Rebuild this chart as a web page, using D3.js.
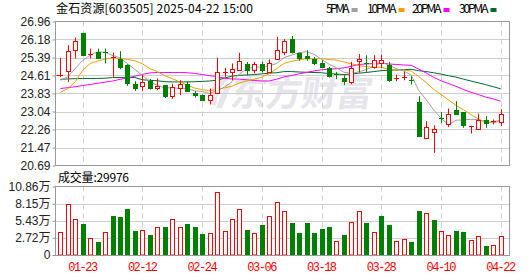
<!DOCTYPE html>
<html>
<head>
<meta charset="utf-8">
<script src="https://cdn.jsdelivr.net/npm/d3@7"></script>
<style>
  body { margin: 0; background: #fff; }
  svg { display: block; }
  text { font-family: "Liberation Sans", Arial, sans-serif; }
  .cjk { font-family: "Noto Sans CJK SC", sans-serif; }
</style>
</head>
<body>
<div id="chart"></div>
<script>
// Trading days shown on the chart
const dates = ['01-20','01-21','01-22','01-23','01-24','01-27','02-05','02-06','02-07','02-10',
  '02-11','02-12','02-13','02-14','02-17','02-18','02-19','02-20','02-21','02-24',
  '02-25','02-26','02-27','02-28','03-03','03-04','03-05','03-06','03-07','03-10',
  '03-11','03-12','03-13','03-14','03-17','03-18','03-19','03-20','03-21','03-24',
  '03-25','03-26','03-27','03-28','03-31','04-01','04-02','04-03','04-07','04-08',
  '04-09','04-10','04-11','04-14','04-15','04-16','04-17','04-18','04-21','04-22'];

// OHLC prices
const open = [24.60,24.81,25.74,26.44,25.52,25.64,25.62,25.38,25.32,25.06,
  24.26,24.13,24.39,24.07,24.19,23.71,24.07,24.22,23.85,23.75,
  23.53,23.83,24.75,24.77,24.87,25.09,24.87,25.09,24.77,25.31,
  25.64,26.18,25.57,25.46,25.32,25.16,24.94,24.67,24.52,24.33,
  25.25,25.16,24.98,25.17,25.06,24.48,24.53,24.42,23.46,21.89,
  22.13,22.78,22.49,23.10,23.00,22.39,22.26,22.66,22.60,22.57];
const high = [25.37,25.93,26.26,26.46,25.78,25.78,25.78,25.61,25.67,25.10,
  24.36,24.65,24.45,24.48,24.19,24.25,24.40,24.36,23.93,23.78,
  24.04,25.38,24.94,25.13,25.60,25.20,25.20,25.20,25.31,26.29,
  26.19,26.33,25.61,25.71,25.42,25.27,24.98,24.77,24.62,25.20,
  25.54,25.49,25.49,25.52,25.20,24.65,24.77,24.58,23.71,22.62,
  22.44,23.02,23.17,23.49,23.00,22.42,22.95,22.84,22.69,23.14];
const low = [24.54,24.33,25.35,25.45,25.35,25.35,25.13,24.55,24.88,24.16,
  23.94,23.94,24.00,23.97,23.63,23.60,23.75,23.90,23.65,23.49,
  23.35,23.83,24.55,24.40,24.87,24.62,24.70,24.74,24.74,25.31,
  25.49,25.57,25.25,25.25,25.06,24.94,24.52,24.45,24.19,24.23,
  24.74,24.74,24.91,24.94,24.33,24.36,24.40,24.22,21.98,21.84,
  21.24,22.54,22.37,22.95,22.33,22.08,22.26,22.33,22.48,22.41];
const close = [24.62,25.68,26.09,25.49,25.55,25.38,25.60,25.40,24.98,24.29,
  24.07,24.32,24.06,24.17,23.71,24.11,24.22,23.93,23.74,23.53,
  23.75,24.74,24.78,24.91,25.22,24.84,25.09,24.84,25.16,25.74,
  26.12,25.62,25.38,25.38,25.17,24.98,24.59,24.65,24.36,24.94,
  25.31,25.10,25.27,25.27,24.40,24.50,24.56,24.40,21.98,22.35,
  22.30,22.74,22.95,22.95,22.46,22.42,22.66,22.55,22.62,22.95];

// Moving averages as drawn
const ma5 = [24.40,24.55,24.91,25.27,25.49,25.64,25.62,25.48,25.38,25.13,
  24.87,24.61,24.34,24.18,24.07,24.07,24.05,24.03,23.94,23.91,
  23.83,23.94,24.11,24.34,24.68,24.90,24.97,24.98,25.03,25.13,
  25.39,25.50,25.60,25.65,25.53,25.31,25.10,24.95,24.75,24.70,
  24.77,24.87,25.00,25.18,25.07,24.91,24.80,24.63,23.97,23.56,
  23.12,22.75,22.46,22.66,22.68,22.70,22.69,22.61,22.54,22.64];
const ma10 = [23.87,24.04,24.33,24.84,25.13,25.24,25.32,25.38,25.35,25.31,
  25.25,25.12,24.91,24.78,24.60,24.47,24.33,24.19,24.06,23.99,
  23.95,24.00,24.07,24.14,24.29,24.37,24.45,24.54,24.69,24.91,
  25.14,25.23,25.29,25.34,25.33,25.35,25.30,25.28,25.20,25.12,
  25.04,24.99,24.98,24.96,24.89,24.84,24.84,24.81,24.57,24.31,
  24.01,23.78,23.55,23.31,23.12,22.91,22.72,22.54,22.60,22.66];
const ma20 = [24.04,24.08,24.12,24.17,24.22,24.27,24.32,24.37,24.44,24.50,
  24.58,24.66,24.72,24.74,24.74,24.74,24.74,24.73,24.70,24.65,
  24.60,24.56,24.49,24.46,24.45,24.42,24.39,24.37,24.37,24.45,
  24.55,24.61,24.68,24.74,24.81,24.86,24.88,24.91,24.94,25.01,
  25.09,25.11,25.13,25.15,25.11,25.09,25.07,25.05,24.89,24.72,
  24.53,24.38,24.26,24.14,24.00,23.88,23.78,23.67,23.59,23.49];
const ma30 = [24.44,24.46,24.47,24.48,24.48,24.48,24.49,24.52,24.52,24.52,
  24.52,24.42,24.40,24.38,24.34,24.33,24.33,24.33,24.34,24.35,
  24.37,24.40,24.50,24.58,24.62,24.63,24.65,24.68,24.71,24.73,
  24.78,24.78,24.76,24.75,24.74,24.73,24.69,24.67,24.65,24.67,
  24.71,24.74,24.78,24.82,24.84,24.85,24.86,24.88,24.82,24.78,
  24.73,24.67,24.60,24.54,24.45,24.37,24.29,24.21,24.12,24.03];

// Volume in 万 shares, and bar colour (1 = red, 0 = green)
const volume = [3.62,8.03,5.77,4.88,2.62,2.05,3.62,6.14,5.98,7.24,
  3.78,4.04,3.15,4.36,4.41,5.77,4.36,4.88,4.41,3.30,
  3.41,10.02,3.88,5.77,7.34,3.93,3.46,4.72,6.24,8.45,
  7.03,5.04,3.46,5.04,3.46,4.09,4.41,2.20,3.15,5.30,
  7.03,5.04,3.57,6.14,4.72,2.20,2.47,2.05,6.92,6.71,
  5.51,3.88,3.25,3.88,3.72,2.31,2.94,1.42,1.52,3.00];
const volUp = [1,1,1,0,1,0,1,0,0,0, 0,1,0,1,0,1,1,0,0,0,
  1,1,1,1,1,0,1,0,1,1, 1,0,0,0,0,0,0,1,0,1,
  1,0,1,0,0,1,1,0,0,1, 0,1,1,0,0,1,1,0,1,1];

// Axis labels
const priceTicks = [26.96,26.18,25.39,24.61,23.83,23.04,22.26,21.47,20.69];
const volTicks = [0,2.715,5.43,8.145,10.86];
const volTickLabels = ['0','2.72万','5.43万','8.15万','10.86万'];
const dateTicks = ['01-23','02-12','02-24','03-06','03-18','03-28','04-10','04-22'];
const markPrice = 24.61;

const maSeries = [
  { name: '5PMA', values: ma5, color: '#a0a0a0' },
  { name: '10PMA', values: ma10, color: '#f0a000' },
  { name: '20PMA', values: ma20, color: '#ff00ff' },
  { name: '30PMA', values: ma30, color: '#006a2c' }
];

const RED = '#ff0000', GREEN = '#008000', GRID = '#cfcfcf', BORDER = '#999';
const W = 530, H = 276;
const left = 55.5, right = 509.5;
const mainTop = 21.5, mainBottom = 165.5;
const volTop = 186.5, volBottom = 255.5;

const svg = d3.select('#chart').append('svg')
  .attr('width', W).attr('height', H)
  .style('background', '#fff');

const x = d3.scalePoint().domain(dates).range([60.3, 500.7]);
const y = d3.scaleLinear().domain([20.69, 26.96]).range([mainBottom, mainTop]);
const vy = d3.scaleLinear().domain([0, 10.86]).range([volBottom - 0.5, volTop]);
const px = d => Math.round(x(d));

// Watermark
const wm = svg.append('g').attr('fill', '#e5e5ea');
wm.append('path')
  .attr('d', 'M222,76 C214,80 208,92 210,104 L216,106 C216,96 220,86 228,80 Z M226,84 L232,84 L222,108 L216,108 Z');
wm.append('text').attr('class', 'cjk')
  .attr('x', 230).attr('y', 106)
  .attr('font-size', 36).attr('font-weight', 'bold')
  .attr('transform', 'skewX(-8) translate(14,0)')
  .attr('textLength', 142)
  .text('东方财富');

// Grid lines
function hGrid(values, scale) {
  svg.append('g').selectAll('line').data(values).join('line')
    .attr('x1', left).attr('x2', right)
    .attr('y1', d => Math.round(scale(d)) + 0.5)
    .attr('y2', d => Math.round(scale(d)) + 0.5)
    .attr('stroke', GRID);
}
hGrid(priceTicks.slice(1, -1), y);
hGrid(volTicks.slice(1, -1), vy);

[[mainTop, mainBottom], [volTop, volBottom]].forEach(([t, b]) => {
  svg.append('g').selectAll('line').data(dateTicks).join('line')
    .attr('x1', d => px(d) + 0.5).attr('x2', d => px(d) + 0.5)
    .attr('y1', t).attr('y2', b)
    .attr('stroke', GRID).attr('stroke-dasharray', '5,4');
});

// Moving average lines
const line = d3.line().x((d, i) => x(dates[i])).y(d => y(d));
svg.append('g').selectAll('path').data(maSeries.slice().reverse()).join('path')
  .attr('d', s => line(s.values))
  .attr('fill', 'none')
  .attr('stroke', s => s.color)
  .attr('stroke-width', 1);

// Candles
const candles = svg.append('g').selectAll('g').data(dates).join('g');
candles.append('line')
  .attr('x1', d => px(d) + 0.5).attr('x2', d => px(d) + 0.5)
  .attr('y1', (d, i) => y(high[i])).attr('y2', (d, i) => y(low[i]))
  .attr('stroke', (d, i) => close[i] > open[i] ? RED : GREEN);
candles.each(function (d, i) {
  const g = d3.select(this);
  const up = close[i] > open[i];
  const c = up ? RED : GREEN;
  const yTop = Math.round(y(Math.max(open[i], close[i])));
  const yBot = Math.round(y(Math.min(open[i], close[i])));
  if (yBot - yTop < 2) {
    g.append('line')
      .attr('x1', px(d) - 2).attr('x2', px(d) + 3)
      .attr('y1', yTop + 0.5).attr('y2', yTop + 0.5)
      .attr('stroke', c);
  } else if (up) {
    g.append('rect')
      .attr('x', px(d) - 1.5).attr('y', yTop + 0.5)
      .attr('width', 4).attr('height', yBot - yTop)
      .attr('fill', '#fff').attr('stroke', c);
  } else {
    g.append('rect')
      .attr('x', px(d) - 2).attr('y', yTop)
      .attr('width', 5).attr('height', yBot - yTop + 1)
      .attr('fill', c);
  }
});

// Volume bars
svg.append('g').selectAll('rect').data(dates).join('rect')
  .attr('x', d => px(d) - 2 + (volUp[dates.indexOf(d)] ? 0.5 : 0))
  .attr('y', (d, i) => Math.round(vy(volume[i])) + (volUp[i] ? 0.5 : 0))
  .attr('width', (d, i) => volUp[i] ? 4 : 5)
  .attr('height', (d, i) => 255 - Math.round(vy(volume[i])) - (volUp[i] ? 0.5 : 0))
  .attr('fill', (d, i) => volUp[i] ? '#fff' : GREEN)
  .attr('stroke', (d, i) => volUp[i] ? RED : 'none');

// Panel borders
[[mainTop, mainBottom], [volTop, volBottom]].forEach(([t, b]) => {
  svg.append('rect')
    .attr('x', left).attr('y', t)
    .attr('width', right - left).attr('height', b - t)
    .attr('fill', 'none').attr('stroke', BORDER);
});

// Price axis
const yAxis = svg.append('g')
  .attr('transform', `translate(${left},0)`)
  .call(d3.axisLeft(y).tickValues(priceTicks).tickFormat(d3.format('.2f')).tickSize(3).tickPadding(2));
yAxis.select('.domain').remove();
yAxis.selectAll('line').attr('stroke', BORDER);
yAxis.selectAll('text').attr('font-size', 12).attr('fill', '#222')
  .style('font-family', '"Liberation Sans", Arial, sans-serif');

// Volume axis
const vAxis = svg.append('g')
  .attr('transform', `translate(${left},0)`)
  .call(d3.axisLeft(vy).tickValues(volTicks).tickFormat((d, i) => volTickLabels[i]).tickSize(3).tickPadding(2));
vAxis.select('.domain').remove();
vAxis.selectAll('line').attr('stroke', BORDER);
vAxis.selectAll('text').attr('font-size', 12).attr('fill', '#222')
  .style('font-family', '"Liberation Sans", "Noto Sans CJK SC", sans-serif');

// Date axis
const xAxis = svg.append('g')
  .attr('transform', `translate(0,${volBottom - 0.5})`)
  .call(d3.axisBottom(x).tickValues(dateTicks).tickSize(0).tickPadding(7));
xAxis.select('.domain').remove();
xAxis.selectAll('text').attr('font-size', 12).attr('fill', RED)
  .style('font-family', '"Liberation Mono", monospace')
  .attr('textLength', 30);

// Small red marker on the price axis
svg.append('line')
  .attr('x1', left + 1).attr('x2', left + 5)
  .attr('y1', Math.round(y(markPrice)) + 0.5).attr('y2', Math.round(y(markPrice)) + 0.5)
  .attr('stroke', RED);

// Title and volume caption
svg.append('text').attr('class', 'cjk')
  .attr('x', 56).attr('y', 13).attr('font-size', 12).attr('fill', '#000')
  .attr('textLength', 197)
  .text('金石资源[603505] 2025-04-22 15:00');
svg.append('text').attr('class', 'cjk')
  .attr('x', 58).attr('y', 182).attr('font-size', 12).attr('fill', '#000')
  .attr('textLength', 71)
  .text('成交量:29976');

// Legend
const legendX = [326, 367, 412, 459];
const legend = svg.append('g').selectAll('g').data(maSeries).join('g')
  .attr('transform', (d, i) => `translate(${legendX[i]},0)`);
legend.append('text').attr('class', 'cjk')
  .attr('y', 13).attr('font-size', 12).attr('fill', '#000')
  .attr('textLength', d => d.name.length * 5.9)
  .text(d => d.name);
legend.append('rect')
  .attr('x', d => d.name.length * 5.9 + 2).attr('y', 8)
  .attr('width', 6).attr('height', 4)
  .attr('fill', d => d.color);
</script>
</body>
</html>
